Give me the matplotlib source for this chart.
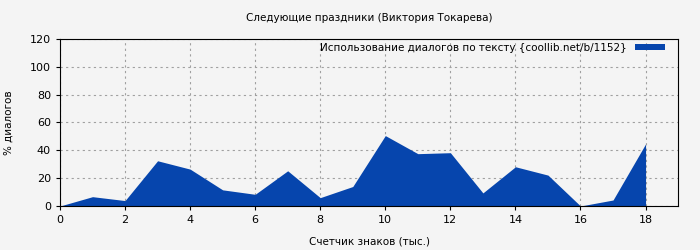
import matplotlib
matplotlib.use('Agg')
import matplotlib.pyplot as plt

# Данные: позиция (тыс. знаков) и процент диалогов
x_vals = [0, 1, 2, 3, 4, 5, 6, 7, 8, 9, 10, 11, 12, 13, 14, 15, 16, 17, 18]
y_vals = [0, 6.7, 3.9, 32.5, 26.5, 11.6, 8.4, 25.3, 6, 14, 50.6, 37.6, 38.3, 9.4, 28.2, 22.2, 0, 4.3, 44.6]

title = 'Следующие праздники (Виктория Токарева)'
legend_label = 'Использование диалогов по тексту {coollib.net/b/1152}'
bg = '#f4f4f4'
fill_color = '#0645ad'

fig = plt.figure(figsize=(7, 2.5), dpi=100, facecolor=bg)
ax = fig.add_axes([0.0857, 0.176, 0.883, 0.668], facecolor=bg)

ax.fill_between(x_vals, y_vals, 0, color=fill_color, linewidth=0, label=legend_label)

ax.set_xlim(0, 19)
ax.set_ylim(0, 120)
ax.set_xticks(range(0, 19, 2))
ax.set_yticks(range(0, 121, 20))
ax.tick_params(labelsize=8, length=3, direction='out')
ax.grid(True, color='#a0a0a0', linestyle=(0, (2, 3)), linewidth=0.8)
ax.set_axisbelow(True)

ax.set_xlabel('Счетчик знаков (тыс.)', fontsize=7.5, labelpad=8)
ax.set_ylabel('% диалогов', fontsize=7.5, labelpad=12)
ax.set_title(title, fontsize=7.5, pad=13)

leg = ax.legend(loc='upper right', bbox_to_anchor=(0.984, 0.995), fontsize=7.5,
                frameon=False, handlelength=2.9, handleheight=0.5,
                borderaxespad=0.0, borderpad=0.3, markerfirst=False)

fig.savefig('out.png', dpi=100, facecolor=bg)
